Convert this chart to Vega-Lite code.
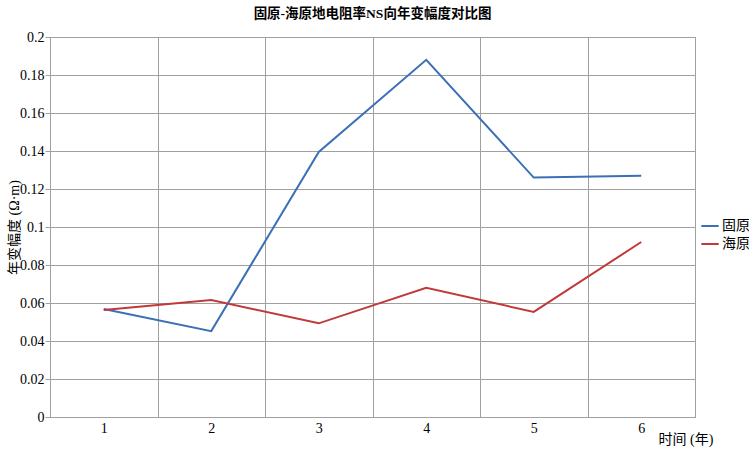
{
  "$schema": "https://vega.github.io/schema/vega-lite/v6.json",
  "autosize": {"type": "none"},
  "width": 645,
  "height": 380,
  "padding": {"left": 50, "top": 37, "right": 54, "bottom": 34},
  "background": "white",
  "title": {
    "text": "固原-海原地电阻率NS向年变幅度对比图",
    "font": "Liberation Serif, Noto Sans CJK SC",
    "fontSize": 13.5,
    "fontWeight": "bold",
    "color": "#000000",
    "anchor": "middle",
    "offset": 10
  },
  "config": {
    "view": {"stroke": "#a0a0a0", "strokeWidth": 1},
    "font": "Liberation Serif, Noto Sans CJK SC",
    "axis": {"labelFont": "Liberation Serif", "titleFont": "Liberation Serif, Noto Sans CJK SC"},
    "legend": {"labelFont": "Liberation Serif, Noto Sans CJK SC"}
  },
  "data": {
    "values": [
      {"year": "1", "site": "固原", "value": 0.0568},
      {"year": "2", "site": "固原", "value": 0.0452},
      {"year": "3", "site": "固原", "value": 0.1395},
      {"year": "4", "site": "固原", "value": 0.188},
      {"year": "5", "site": "固原", "value": 0.126},
      {"year": "6", "site": "固原", "value": 0.127},
      {"year": "1", "site": "海原", "value": 0.0563},
      {"year": "2", "site": "海原", "value": 0.0616},
      {"year": "3", "site": "海原", "value": 0.0493},
      {"year": "4", "site": "海原", "value": 0.068},
      {"year": "5", "site": "海原", "value": 0.0553},
      {"year": "6", "site": "海原", "value": 0.0921}
    ]
  },
  "mark": {"type": "line", "strokeWidth": 2},
  "encoding": {
    "x": {
      "field": "year",
      "type": "ordinal",
      "bandPosition": 0.5,
      "scale": {"type": "band", "paddingInner": 0, "paddingOuter": 0},
      "axis": {
        "title": "时间 (年)",
        "titleFontSize": 14,
        "titleFontWeight": "normal",
        "titleColor": "#000000",
        "titleAlign": "left",
        "titleBaseline": "middle",
        "titleAnchor": null,
        "titleX": 608,
        "titleY": 22,
        "labelAngle": 0,
        "labelFontSize": 14,
        "labelColor": "#000000",
        "labelPadding": 4,
        "tickBand": "extent",
        "ticks": false,
        "grid": true,
        "gridColor": "#a0a0a0",
        "gridWidth": 1,
        "domainColor": "#a0a0a0"
      }
    },
    "y": {
      "field": "value",
      "type": "quantitative",
      "scale": {"domain": [0, 0.2], "nice": false},
      "axis": {
        "title": "年变幅度 (Ω·m)",
        "titleFontSize": 14,
        "titleFontWeight": "normal",
        "titleColor": "#000000",
        "titleAnchor": null,
        "titleX": -36,
        "titleY": 190,
        "titleAlign": "center",
        "titleBaseline": "middle",
        "values": [0, 0.02, 0.04, 0.06, 0.08, 0.1, 0.12, 0.14, 0.16, 0.18, 0.2],
        "format": "~g",
        "labelFontSize": 14,
        "labelColor": "#000000",
        "labelPadding": 1,
        "tickSize": 5,
        "tickColor": "#a0a0a0",
        "domainColor": "#a0a0a0",
        "grid": true,
        "gridColor": "#a0a0a0",
        "gridWidth": 1
      }
    },
    "color": {
      "field": "site",
      "type": "nominal",
      "scale": {"domain": ["固原", "海原"], "range": ["#3b6fb6", "#c0393b"]},
      "legend": {
        "title": null,
        "orient": "none",
        "legendX": 650,
        "legendY": 179,
        "symbolType": "stroke",
        "symbolSize": 300,
        "symbolStrokeWidth": 2,
        "labelFontSize": 14,
        "labelColor": "#000000",
        "labelOffset": 2,
        "rowPadding": 1
      }
    }
  }
}
